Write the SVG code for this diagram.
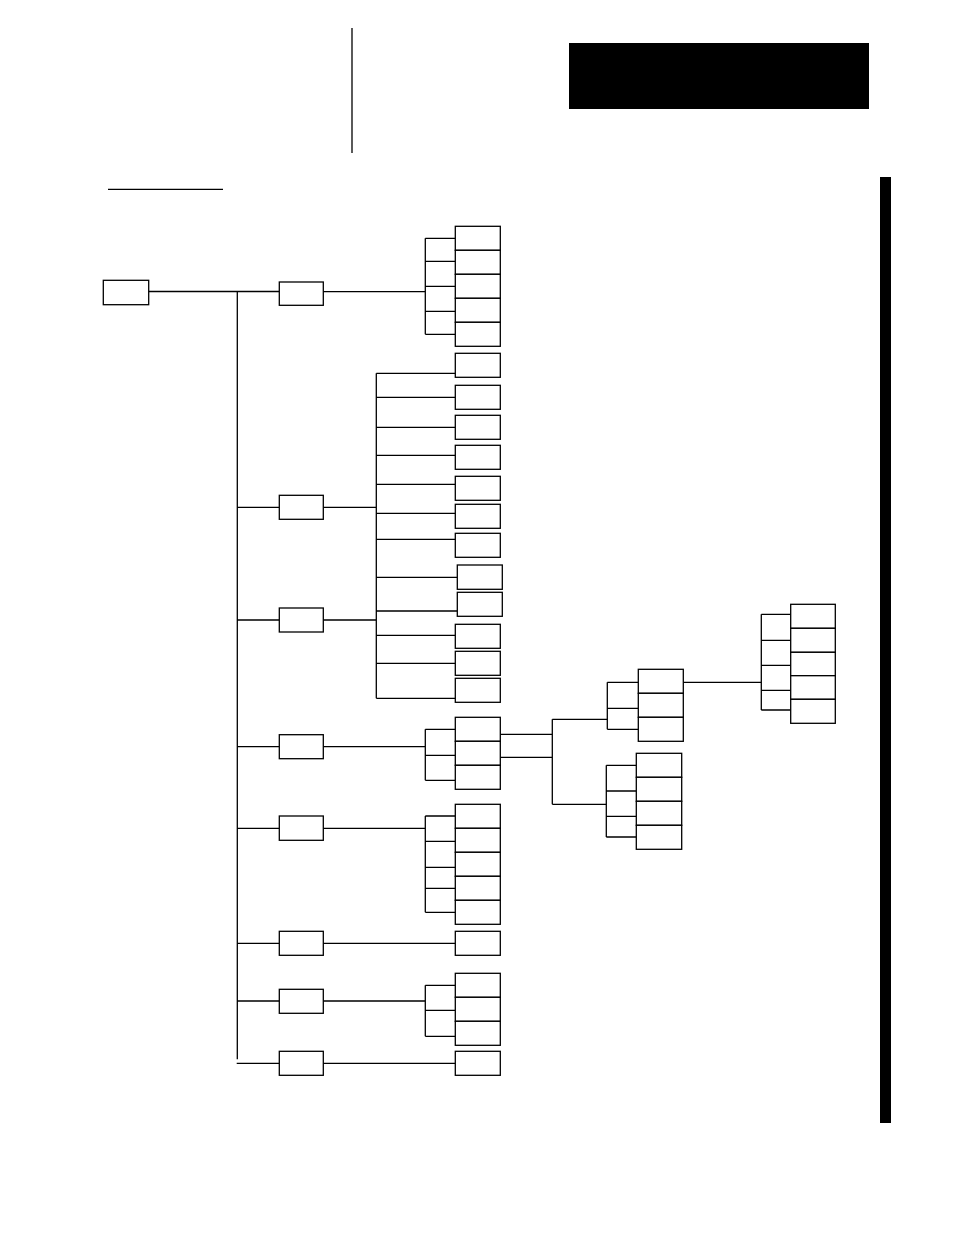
<svg xmlns="http://www.w3.org/2000/svg" width="954" height="1235" viewBox="0 0 954 1235">
<style>
.b{fill:#fff;stroke:#000;stroke-width:1.3}
.c{fill:none;stroke:#000;stroke-width:1.3}
.k{fill:#000;stroke:none}
</style>
<rect width="954" height="1235" fill="#fff"/>
<g id="header">
<line class="c" x1="352" y1="28" x2="352" y2="153"/>
<rect class="k" x="569" y="43" width="300" height="66"/>
<rect class="k" x="880" y="177" width="11" height="946"/>
<line class="c" x1="108" y1="189.3" x2="223" y2="189.3"/>
</g>
<g id="connectors">
<path class="c" d="M148,291.5H279M237.3,291.5V1059.3M237.3,507.3H279M237.3,620H279M237.3,746.7H279M237.3,828.3H279M237.3,943.3H279M237.3,1001H279M236.7,1063.3H279"/>
<path class="c" d="M323,291.7H425.3M425.3,238.3V334.3M425.3,238.3H455.3M425.3,261.3H455.3M425.3,286.3H455.3M425.3,311.3H455.3M425.3,334.3H455.3"/>
<path class="c" d="M323,507.3H376.3M323,620H376.3M376.3,373.3V698.3M376.3,373.3H455.3M376.3,397.3H455.3M376.3,427.3H455.3M376.3,455.3H455.3M376.3,484.3H455.3M376.3,513.3H455.3M376.3,539.3H455.3M376.3,577.3H457.3M376.3,611H457.3M376.3,635.3H455.3M376.3,663.3H455.3M376.3,698.3H455.3"/>
<path class="c" d="M323,746.7H425.3M425.3,729.3V780.3M425.3,729.3H455.3M425.3,755.3H455.3M425.3,780.3H455.3"/>
<path class="c" d="M500.3,734.3H552.3M500.3,757.3H552.3M552.3,719.3V804.3M552.3,719.3H607.3M552.3,804.3H606.3"/>
<path class="c" d="M607.3,682.3V729.3M607.3,682.3H638.3M607.3,708.3H638.3M607.3,729.3H638.3"/>
<path class="c" d="M606.3,765.3V837M606.3,765.3H636.3M606.3,791H636.3M606.3,816.3H636.3M606.3,837H636.3"/>
<path class="c" d="M683.3,682.3H761.3M761.3,614.3V710M761.3,614.3H790.7M761.3,640.3H790.7M761.3,665.3H790.7M761.3,690.3H790.7M761.3,710H790.7"/>
<path class="c" d="M323,828.3H425.3M425.3,816V912.3M425.3,816H455.3M425.3,841.3H455.3M425.3,867.3H455.3M425.3,888.3H455.3M425.3,912.3H455.3"/>
<path class="c" d="M323,943.3H455.3"/>
<path class="c" d="M323,1001H425.3M425.3,985.3V1036.3M425.3,985.3H455.3M425.3,1010.3H455.3M425.3,1036.3H455.3"/>
<path class="c" d="M323,1063.3H455.3"/>
</g>
<g id="root"><rect class="b" x="103.3" y="280.3" width="45.4" height="24.4"/></g>
<g id="n1"><rect class="b" x="279.3" y="282" width="44" height="23.3"/></g>
<g id="n2"><rect class="b" x="279.3" y="495.3" width="44" height="24"/></g>
<g id="n3"><rect class="b" x="279.3" y="608" width="44" height="24"/></g>
<g id="n4"><rect class="b" x="279.3" y="734.7" width="44" height="24"/></g>
<g id="n5"><rect class="b" x="279.3" y="816" width="44" height="24.3"/></g>
<g id="n6"><rect class="b" x="279.3" y="931.3" width="44" height="24"/></g>
<g id="n7"><rect class="b" x="279.3" y="989.3" width="44" height="24"/></g>
<g id="n8"><rect class="b" x="279.3" y="1051.3" width="44" height="24"/></g>
<g id="g1">
<rect class="b" x="455.3" y="226.3" width="45" height="24"/>
<rect class="b" x="455.3" y="250.3" width="45" height="24"/>
<rect class="b" x="455.3" y="274.3" width="45" height="24"/>
<rect class="b" x="455.3" y="298.3" width="45" height="24"/>
<rect class="b" x="455.3" y="322.3" width="45" height="24"/>
</g>
<g id="g2">
<rect class="b" x="455.3" y="353.3" width="45" height="24"/>
<rect class="b" x="455.3" y="385.3" width="45" height="24"/>
<rect class="b" x="455.3" y="415.3" width="45" height="24"/>
<rect class="b" x="455.3" y="445.3" width="45" height="24"/>
<rect class="b" x="455.3" y="476.3" width="45" height="24"/>
<rect class="b" x="455.3" y="504.3" width="45" height="24"/>
<rect class="b" x="455.3" y="533.3" width="45" height="24"/>
<rect class="b" x="457.3" y="565" width="45" height="24.3"/>
<rect class="b" x="457.3" y="592.3" width="45" height="24"/>
<rect class="b" x="455.3" y="624.3" width="45" height="24"/>
<rect class="b" x="455.3" y="651.3" width="45" height="24"/>
<rect class="b" x="455.3" y="678.3" width="45" height="24"/>
</g>
<g id="g4">
<rect class="b" x="455.3" y="717.3" width="45" height="24"/>
<rect class="b" x="455.3" y="741.3" width="45" height="24"/>
<rect class="b" x="455.3" y="765.3" width="45" height="24"/>
</g>
<g id="g4a">
<rect class="b" x="638.3" y="669.3" width="45" height="24"/>
<rect class="b" x="638.3" y="693.3" width="45" height="24"/>
<rect class="b" x="638.3" y="717.3" width="45" height="24"/>
</g>
<g id="g4b">
<rect class="b" x="636.3" y="753.3" width="45.4" height="24"/>
<rect class="b" x="636.3" y="777.3" width="45.4" height="24"/>
<rect class="b" x="636.3" y="801.3" width="45.4" height="24"/>
<rect class="b" x="636.3" y="825.3" width="45.4" height="24"/>
</g>
<g id="g4c">
<rect class="b" x="790.7" y="604.3" width="44.6" height="24"/>
<rect class="b" x="790.7" y="628.3" width="44.6" height="24"/>
<rect class="b" x="790.7" y="652.3" width="44.6" height="23.4"/>
<rect class="b" x="790.7" y="675.7" width="44.6" height="23.6"/>
<rect class="b" x="790.7" y="699.3" width="44.6" height="24"/>
</g>
<g id="g5">
<rect class="b" x="455.3" y="804.3" width="45" height="24"/>
<rect class="b" x="455.3" y="828.3" width="45" height="24"/>
<rect class="b" x="455.3" y="852.3" width="45" height="24"/>
<rect class="b" x="455.3" y="876.3" width="45" height="24"/>
<rect class="b" x="455.3" y="900.3" width="45" height="24"/>
</g>
<g id="g6"><rect class="b" x="455.3" y="931.3" width="45" height="24"/></g>
<g id="g7">
<rect class="b" x="455.3" y="973.3" width="45" height="24"/>
<rect class="b" x="455.3" y="997.3" width="45" height="24"/>
<rect class="b" x="455.3" y="1021.3" width="45" height="24"/>
</g>
<g id="g8"><rect class="b" x="455.3" y="1051.3" width="45" height="24"/></g>
</svg>
